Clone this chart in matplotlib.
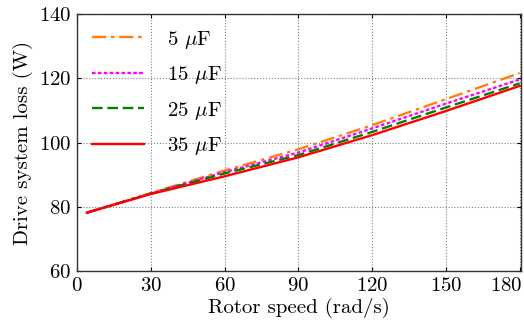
import numpy as np
import matplotlib
matplotlib.use('Agg')
import matplotlib.pyplot as plt
import matplotlib.transforms as mtransforms

plt.rcParams['font.family'] = ['cmr10', 'DejaVu Serif']
plt.rcParams['mathtext.fontset'] = 'cm'
plt.rcParams['axes.formatter.use_mathtext'] = True

# rotor speed (rad/s)
speed = [4, 30, 60, 90, 120, 150, 180]
# drive system loss (W) per dc-link capacitance
loss_5uf = [78.2, 84.3, 91.3, 97.9, 105.4, 113.5, 121.6]
loss_15uf = [78.2, 84.2, 90.8, 96.9, 104.4, 112.1, 119.6]
loss_25uf = [78.2, 84.1, 90.4, 96.1, 103.3, 110.9, 118.4]
loss_35uf = [78.2, 84.0, 89.5, 95.4, 102.3, 109.8, 117.6]

labels = [r'5 $\mu$F', r'15 $\mu$F', r'25 $\mu$F', r'35 $\mu$F']
colors = ['#ff7f0e', '#ff00ff', '#008000', '#ff0000']
styles = [(0, (6, 2, 1.5, 2)), (0, (1.5, 1)), (0, (4.5, 2)), '-']

fig, ax = plt.subplots(figsize=(5.24, 3.24), dpi=100)
series = [loss_5uf, loss_15uf, loss_25uf, loss_35uf]
for y, lab, c, ls in zip(series, labels, colors, styles):
    ax.plot(speed, y, color=c, linestyle=ls, linewidth=1.7, label=lab)

ax.set_xlim(0, 180.5)
ax.set_ylim(60, 140)
ax.set_xticks([0, 30, 60, 90, 120, 150, 180])
ax.set_yticks([60, 80, 100, 120, 140])
ax.tick_params(direction='in', top=True, right=True, labelsize=15, length=3, pad=4)
ax.grid(True, linestyle=':', color='gray', linewidth=0.8)
ax.set_xlabel('Rotor speed (rad/s)', fontsize=15, labelpad=2)
ax.set_ylabel('Drive system loss (W)', fontsize=15)
for s in ax.spines.values():
    s.set_linewidth(1.0)
    s.set_color('#333333')

# keep the last x tick label inside the figure, like the original
last = ax.get_xticklabels()[-1]
last.set_ha('right')
last.set_transform(last.get_transform() + mtransforms.ScaledTranslation(3 / 100, 0, fig.dpi_scale_trans))

ax.legend(loc='upper left', frameon=False, fontsize=15, handlelength=2.5,
          labelspacing=0.65, handletextpad=1.1, borderaxespad=0.3)

plt.subplots_adjust(left=0.147, right=0.994, top=0.957, bottom=0.163)
plt.savefig('out.png', dpi=100)
